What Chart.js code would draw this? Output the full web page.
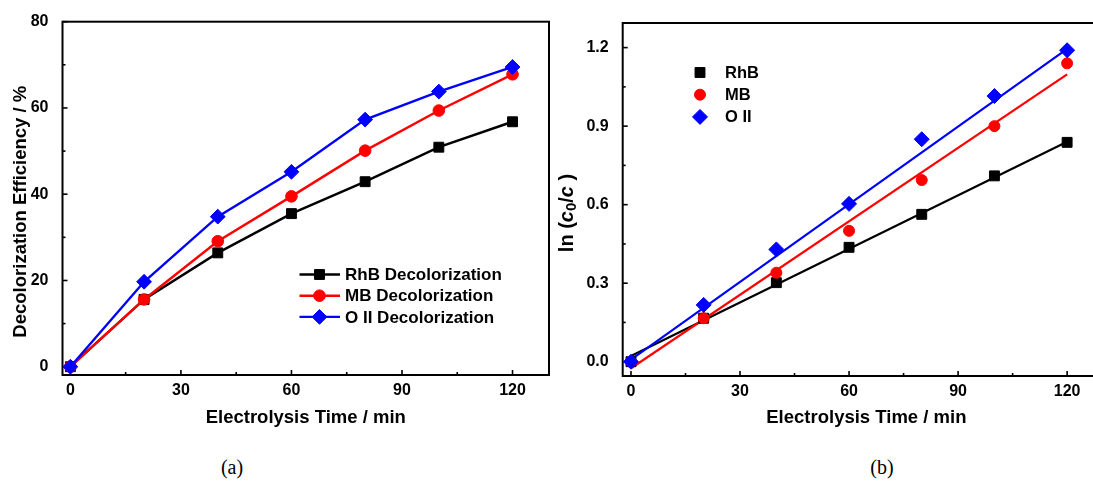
<!DOCTYPE html>
<html lang="en">
<head>
  <meta charset="UTF-8">
  <title>Decolorization Efficiency and ln(c0/c) vs Electrolysis Time</title>
  <script src="https://cdn.jsdelivr.net/npm/chart.js"></script>
  <style>
    body {
      margin: 0;
      width: 1093px;
      height: 486px;
      overflow: hidden;
      position: relative;
      background: #fff;
      font-family: "Liberation Sans", Arial, sans-serif;
    }
    .panel { position: absolute; top: 0; height: 440px; }
    #panelA { left: 0; width: 552px; }
    #panelB { left: 552px; width: 560px; }
    .caption {
      position: absolute;
      top: 455px;
      width: 60px;
      text-align: center;
      font-family: "Liberation Serif", "Times New Roman", serif;
      font-size: 20px;
      line-height: 24px;
      color: #000;
    }
  </style>
</head>
<body>
  <div class="panel" id="panelA"><canvas id="chartA"></canvas></div>
  <div class="panel" id="panelB"><canvas id="chartB"></canvas></div>
  <div class="caption" style="left:202px">(a)</div>
  <div class="caption" style="left:852px">(b)</div>

  <script>
    // ---- data ----
    const timeMin = [0, 20, 40, 60, 80, 100, 120];

    // (a) decolorization efficiency, %
    const effRhB = [0, 15.6, 26.4, 35.5, 42.9, 50.9, 56.8];
    const effMB  = [0, 15.6, 29.1, 39.5, 50.1, 59.4, 67.8];
    const effOII = [0, 19.7, 34.8, 45.2, 57.3, 63.8, 69.5];

    // (b) ln(c0/c)
    const lnRhB = [0, 0.166, 0.302, 0.437, 0.563, 0.710, 0.838];
    const lnMB  = [0, 0.166, 0.340, 0.500, 0.694, 0.900, 1.140];
    const lnOII = [0, 0.217, 0.429, 0.603, 0.850, 1.015, 1.190];

    // (b) fitted lines, value at start and end time
    const fitTime = [0, 120];
    const fitRhB = [0.022, 0.840];
    const fitMB  = [-0.025, 1.098];
    const fitOII = [0.008, 1.195];

    // tick values (minor + major)
    const xTicks  = [0, 15, 30, 45, 60, 75, 90, 105, 120];
    const yTicksA = [0, 10, 20, 30, 40, 50, 60, 70, 80];
    const yTicksB = [0, 0.15, 0.3, 0.45, 0.6, 0.75, 0.9, 1.05, 1.2];

    const labelsA = ['RhB Decolorization', 'MB Decolorization', 'O II Decolorization'];
    const labelsB = ['RhB', 'MB', 'O II'];

    const BLACK = '#000000', RED = '#ff0000', BLUE = '#0000ff';
    const FONT = '"Liberation Sans", Arial, sans-serif';

    Chart.defaults.font.family = FONT;
    Chart.defaults.color = '#000';

    const toPts = (xs, ys) => xs.map((x, i) => ({ x: x, y: ys[i] }));

    function markerSet(label, xs, ys, color, style, radius, order, line) {
      return {
        label: label,
        data: toPts(xs, ys),
        showLine: line,
        borderColor: color,
        backgroundColor: color,
        pointBackgroundColor: color,
        pointBorderColor: color,
        pointBorderWidth: 1,
        pointStyle: style,
        pointRadius: radius,
        borderWidth: 2.4,
        tension: 0,
        order: order,
        clip: false
      };
    }

    function fitSet(xs, ys, color, order) {
      return {
        label: '',
        data: toPts(xs, ys),
        showLine: true,
        borderColor: color,
        borderWidth: 2.2,
        pointRadius: 0,
        order: order,
        clip: false
      };
    }

    // frame + inward ticks
    const frameTicks = {
      id: 'frameTicks',
      beforeDatasetsDraw(chart) {
        const { ctx, chartArea: a, scales } = chart;
        ctx.save();
        ctx.strokeStyle = '#000';
        ctx.lineWidth = 1.6;
        scales.x.ticks.forEach(t => {
          const px = scales.x.getPixelForValue(t.value);
          const len = t.label !== '' ? 5 : 3;
          ctx.beginPath();
          ctx.moveTo(px, a.bottom);
          ctx.lineTo(px, a.bottom - len);
          ctx.stroke();
        });
        scales.y.ticks.forEach(t => {
          const py = scales.y.getPixelForValue(t.value);
          const len = t.label !== '' ? 5 : 3;
          ctx.beginPath();
          ctx.moveTo(a.left, py);
          ctx.lineTo(a.left + len, py);
          ctx.stroke();
        });
        ctx.lineWidth = 2;
        ctx.strokeRect(a.left, a.top, a.right - a.left, a.bottom - a.top);
        ctx.restore();
      }
    };

    // rotated y title built from parts (for italic / subscript)
    const yTitle = {
      id: 'yTitle',
      afterDraw(chart, args, opts) {
        const ctx = chart.ctx;
        ctx.save();
        ctx.translate(opts.x, opts.y);
        ctx.rotate(-Math.PI / 2);
        ctx.fillStyle = '#000';
        ctx.textBaseline = 'middle';
        let total = 0;
        const widths = opts.parts.map(p => {
          ctx.font = p.font;
          const w = ctx.measureText(p.text).width;
          total += w;
          return w;
        });
        let xx = -total / 2;
        opts.parts.forEach((p, i) => {
          ctx.font = p.font;
          ctx.fillText(p.text, xx, p.dy || 0);
          xx += widths[i];
        });
        ctx.restore();
      }
    };

    function drawMarker(ctx, style, r, x, y) {
      if (Chart.helpers && Chart.helpers.drawPoint) {
        Chart.helpers.drawPoint(ctx, { pointStyle: style, radius: r, rotation: 0, borderWidth: 1 }, x, y);
        return;
      }
      ctx.beginPath();
      if (style === 'circle') ctx.arc(x, y, r, 0, Math.PI * 2);
      else if (style === 'rect') { const s = r * Math.SQRT1_2; ctx.rect(x - s, y - s, 2 * s, 2 * s); }
      else { ctx.moveTo(x, y - r); ctx.lineTo(x + r, y); ctx.lineTo(x, y + r); ctx.lineTo(x - r, y); ctx.closePath(); }
      ctx.fill();
      ctx.stroke();
    }

    // legend placed inside the plot
    const boxLegend = {
      id: 'boxLegend',
      afterDraw(chart, args, opts) {
        const ctx = chart.ctx;
        ctx.save();
        ctx.font = 'bold ' + opts.size + 'px ' + FONT;
        ctx.textBaseline = 'middle';
        opts.items.forEach((idx, row) => {
          const ds = chart.data.datasets[idx];
          const y = opts.y + row * opts.dy;
          const c = ds.borderColor;
          ctx.strokeStyle = c;
          ctx.fillStyle = c;
          if (opts.lineFrom !== undefined) {
            ctx.lineWidth = 2.4;
            ctx.beginPath();
            ctx.moveTo(opts.lineFrom, y);
            ctx.lineTo(opts.lineTo, y);
            ctx.stroke();
          }
          ctx.lineWidth = 1;
          drawMarker(ctx, ds.pointStyle, ds.pointRadius, opts.markerX, y);
          ctx.fillStyle = '#000';
          ctx.fillText(ds.label, opts.textX, y + 1);
        });
        ctx.restore();
      }
    };

    const tickFont = { family: FONT, size: 16, weight: 'bold' };
    const titleFont = { family: FONT, size: 18.5, weight: 'bold' };

    function xScale(min, max, h) {
      return {
        type: 'linear',
        min: min,
        max: max,
        grid: { display: false },
        border: { display: false },
        ticks: {
          font: tickFont,
          color: '#000',
          padding: -2,
          autoSkip: false,
          maxRotation: 0,
          callback: v => (v % 30 === 0 ? String(v) : '')
        },
        afterBuildTicks: s => { s.ticks = xTicks.map(v => ({ value: v })); },
        afterFit: s => { s.height = h; },
        title: {
          display: true,
          text: 'Electrolysis Time / min',
          font: titleFont,
          color: '#000',
          padding: { top: 0, bottom: 10.8 }
        }
      };
    }

    // ---- (a) ----
    new Chart(document.getElementById('chartA'), {
      type: 'scatter',
      data: {
        datasets: [
          markerSet(labelsA[0], timeMin, effRhB, BLACK, 'rect', 7, 3, true),
          markerSet(labelsA[1], timeMin, effMB, RED, 'circle', 5.8, 2, true),
          markerSet(labelsA[2], timeMin, effOII, BLUE, 'rectRot', 7.4, 1, true)
        ]
      },
      options: {
        responsive: true,
        maintainAspectRatio: false,
        animation: false,
        layout: { autoPadding: false, padding: { top: 21.7, right: 3, left: 0, bottom: 0 } },
        plugins: {
          legend: { display: false },
          tooltip: { enabled: false },
          yTitle: {
            x: 21, y: 211.7,
            parts: [{ text: 'Decolorization Efficiency / %', font: 'bold 18.5px ' + FONT }]
          },
          boxLegend: {
            items: [0, 1, 2], y: 274.5, dy: 21.2, size: 17,
            lineFrom: 299.5, lineTo: 340, markerX: 319.5, textX: 345
          }
        },
        scales: {
          x: xScale(-2.14, 129.9, 65),
          y: {
            type: 'linear',
            min: -1.92,
            max: 80,
            grid: { display: false },
            border: { display: false },
            ticks: {
              font: tickFont,
              color: '#000',
              padding: 6,
              autoSkip: false,
              callback: v => (v % 20 === 0 ? String(v) : '')
            },
            afterBuildTicks: s => { s.ticks = yTicksA.map(v => ({ value: v })); },
            afterFit: s => { s.width = 62.5; }
          }
        }
      },
      plugins: [frameTicks, yTitle, boxLegend]
    });

    // ---- (b) ----
    const italic = 'italic bold 20px ' + FONT;
    const upright = 'bold 20px ' + FONT;

    new Chart(document.getElementById('chartB'), {
      type: 'scatter',
      data: {
        datasets: [
          markerSet(labelsB[0], timeMin, lnRhB, BLACK, 'rect', 7, 3, false),
          markerSet(labelsB[1], timeMin, lnMB, RED, 'circle', 5.5, 2, false),
          markerSet(labelsB[2], timeMin, lnOII, BLUE, 'rectRot', 7.5, 1, false),
          fitSet(fitTime, fitRhB, BLACK, 6),
          fitSet(fitTime, fitMB, RED, 5),
          fitSet(fitTime, fitOII, BLUE, 4)
        ]
      },
      options: {
        responsive: true,
        maintainAspectRatio: false,
        animation: false,
        layout: { autoPadding: false, padding: { top: 23, right: 2, left: 0, bottom: 0 } },
        plugins: {
          legend: { display: false },
          tooltip: { enabled: false },
          yTitle: {
            x: 15.5, y: 213,
            parts: [
              { text: 'ln (', font: upright },
              { text: 'c', font: italic },
              { text: '0', font: 'bold 15px ' + FONT, dy: 4 },
              { text: '/', font: upright },
              { text: 'c', font: italic },
              { text: ' )', font: upright }
            ]
          },
          boxLegend: {
            items: [0, 1, 2], y: 72.5, dy: 22.2, size: 16.5,
            markerX: 148, textX: 173
          }
        },
        scales: {
          x: xScale(-2.28, 131.8, 64),
          y: {
            type: 'linear',
            min: -0.0546,
            max: 1.294,
            grid: { display: false },
            border: { display: false },
            ticks: {
              font: tickFont,
              color: '#000',
              padding: 6,
              autoSkip: false,
              callback: v => {
                const k = v / 0.3;
                return Math.abs(k - Math.round(k)) < 1e-6 ? v.toFixed(1) : '';
              }
            },
            afterBuildTicks: s => { s.ticks = yTicksB.map(v => ({ value: v })); },
            afterFit: s => { s.width = 70.7; }
          }
        }
      },
      plugins: [frameTicks, yTitle, boxLegend]
    });
  </script>
</body>
</html>
